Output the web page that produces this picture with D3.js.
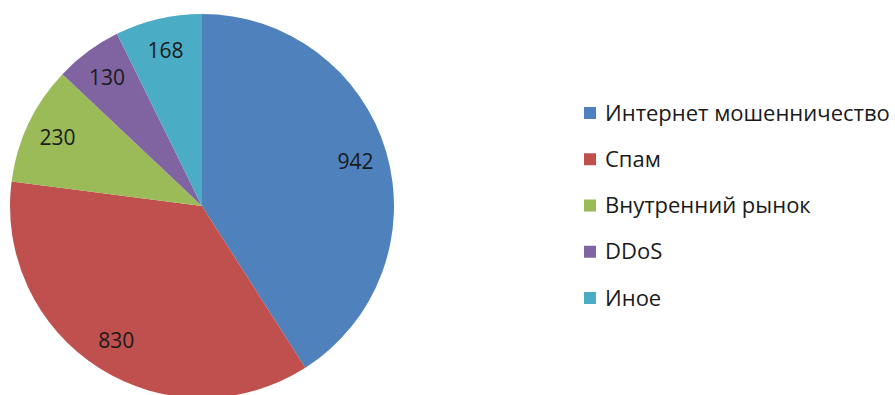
<!DOCTYPE html>
<html>
<head>
<meta charset="utf-8">
<script src="https://cdn.jsdelivr.net/npm/d3@7"></script>
<style>
  body { margin: 0; background: #fff; }
  text { font-family: "Open Sans", "Noto Sans", sans-serif; fill: #1a1a1a; }
</style>
</head>
<body>
<div id="vis1"></div>
<script>
const FRAME_WIDTH = 895;
const FRAME_HEIGHT = 395;

// data
const categories = ["Интернет мошенничество", "Спам", "Внутренний рынок", "DDoS", "Иное"];
const values = [942, 830, 230, 130, 168];
const colors = ["#4F81BD", "#C0504D", "#9BBB59", "#8064A2", "#4BACC6"];

const CX = 202, CY = 206, R = 192;

const FRAME1 = d3.select("#vis1")
  .append("svg")
    .attr("width", FRAME_WIDTH)
    .attr("height", FRAME_HEIGHT);

const color = d3.scaleOrdinal().domain(categories).range(colors);

const pie = d3.pie().sort(null).value(d => d.value);
const arcs = pie(categories.map((c, i) => ({name: c, value: values[i]})));

const arc = d3.arc().innerRadius(0).outerRadius(R);
const labelArc = d3.arc().innerRadius(160).outerRadius(160);

const g = FRAME1.append("g").attr("transform", `translate(${CX},${CY})`);

g.selectAll("path")
  .data(arcs)
  .enter()
  .append("path")
    .attr("d", arc)
    .attr("fill", d => color(d.data.name));

g.selectAll(".lbl")
  .data(arcs)
  .enter()
  .append("text")
    .attr("class", "lbl")
    .attr("transform", d => `translate(${labelArc.centroid(d)})`)
    .attr("text-anchor", "middle")
    .attr("dy", "0.35em")
    .attr("font-size", 21)
    .text(d => d.data.value);

// legend
const legend = FRAME1.append("g").attr("transform", "translate(584,113)");
const rowY = d3.scalePoint().domain(categories).range([0, 185]);

const rows = legend.selectAll("g")
  .data(categories)
  .enter()
  .append("g")
    .attr("transform", d => `translate(0,${rowY(d)})`);

rows.append("rect")
  .attr("x", 0)
  .attr("y", -6)
  .attr("width", 12)
  .attr("height", 12)
  .attr("fill", d => color(d));

rows.append("text")
  .attr("x", 21)
  .attr("dy", "0.35em")
  .attr("font-size", 22)
  .text(d => d);
</script>
</body>
</html>
